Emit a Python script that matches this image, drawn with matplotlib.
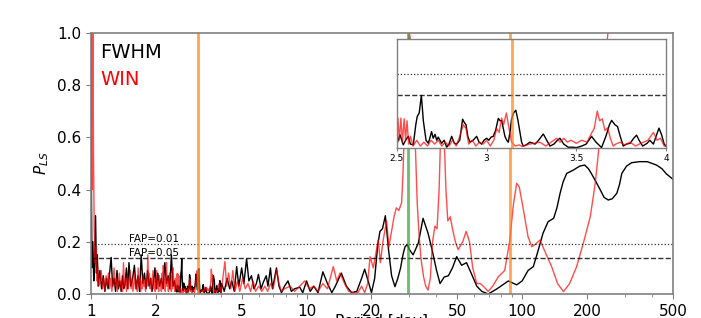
import numpy as np
import matplotlib
matplotlib.use("Agg")
import matplotlib.pyplot as plt
from matplotlib.ticker import NullFormatter

# FWHM periodogram: noisy short-period part, then smoother long-period part
fwhm_period = [1.000, 1.004, 1.01, 1.02, 1.03, 1.04, 1.05, 1.06, 1.07, 1.08, 1.10, 1.12, 1.14, 1.16,
               1.18, 1.20, 1.22, 1.24, 1.26, 1.28, 1.30, 1.32, 1.34, 1.36, 1.38, 1.40, 1.42, 1.44,
               1.46, 1.48, 1.50, 1.53, 1.56, 1.59, 1.62, 1.65, 1.68, 1.71, 1.74, 1.77, 1.80, 1.83,
               1.86, 1.89, 1.92, 1.95, 1.98, 2.01, 2.04, 2.08, 2.12, 2.16, 2.20, 2.24, 2.28, 2.32,
               2.36, 2.40, 2.44, 2.48,
               4.04, 4.15, 4.28, 4.40, 4.50, 4.62, 4.74, 4.85, 5.00, 5.12, 5.27, 5.40, 5.55, 5.70,
               5.85, 5.98, 6.15, 6.30, 6.50, 6.62, 6.80, 6.95, 7.10, 7.25, 7.45, 7.65, 7.90, 8.20,
               8.50, 8.80, 9.30, 9.60, 10.0, 10.4, 10.8, 11.3, 11.9, 12.5, 13.1, 13.6, 14.5, 15.3,
               16.2, 17.1, 18.0, 18.6, 19.3, 20.0, 20.7, 21.4, 21.9, 22.5, 23.2, 24.0, 24.8, 25.7,
               26.5, 27.3, 28.0, 28.6, 29.3, 30.0, 31.2, 33.0, 34.7, 36.6, 38.2, 40.1, 41.6, 43.5,
               45.5, 47.5, 49.7, 52.4, 55.2, 58.0, 61.6, 65.0, 69.6, 76.5, 86.3, 94.3, 100.0, 106.5,
               112.7, 118.0, 125.0, 132.0, 140.0, 145.0, 150.0, 155.0, 161.0, 173.0, 185.0, 195.0,
               203.0, 210.0, 220.0, 230.0, 240.0, 251.0, 262.0, 275.0, 283.0, 290.0, 305.0, 322.0,
               350.0, 380.0, 420.0, 445.0, 467.0, 500.0]
fwhm_power = [1.00, 0.45, 0.10, 0.20, 0.05, 0.12, 0.30, 0.08, 0.15, 0.03, 0.09, 0.02, 0.07, 0.01,
              0.06, 0.02, 0.08, 0.14, 0.03, 0.06, 0.01, 0.09, 0.02, 0.05, 0.01, 0.07, 0.02, 0.04,
              0.10, 0.02, 0.12, 0.03, 0.06, 0.11, 0.02, 0.07, 0.01, 0.15, 0.04, 0.08, 0.02, 0.09,
              0.03, 0.06, 0.01, 0.05, 0.10, 0.02, 0.08, 0.03, 0.06, 0.02, 0.12, 0.04, 0.07, 0.02,
              0.15, 0.03, 0.05, 0.01,
              0.04, 0.01, 0.06, 0.02, 0.05, 0.01, 0.105, 0.03, 0.10, 0.04, 0.135, 0.05, 0.07, 0.02,
              0.04, 0.075, 0.02, 0.045, 0.07, 0.03, 0.10, 0.02, 0.06, 0.10, 0.03, 0.005, 0.03, 0.05,
              0.01, 0.02, 0.026, 0.005, 0.05, 0.01, 0.03, 0.005, 0.085, 0.04, 0.005, 0.03, 0.08, 0.03,
              0.005, 0.01, 0.06, 0.095, 0.05, 0.005, 0.06, 0.19, 0.24, 0.25, 0.30, 0.17, 0.07, 0.028,
              0.06, 0.10, 0.15, 0.18, 0.19, 0.17, 0.15, 0.195, 0.29, 0.233, 0.17, 0.09, 0.04, 0.065,
              0.07, 0.10, 0.143, 0.11, 0.12, 0.08, 0.03, 0.01, 0.0, 0.02, 0.05, 0.035, 0.05, 0.09,
              0.105, 0.16, 0.233, 0.277, 0.29, 0.33, 0.386, 0.43, 0.462, 0.475, 0.49, 0.494,
              0.48, 0.46, 0.43, 0.40, 0.37, 0.36, 0.365, 0.386, 0.42, 0.462, 0.49, 0.503,
              0.507, 0.507, 0.494, 0.48, 0.46, 0.44]

# WIN periodogram (above 250 d it runs off the top of the axes)
win_period = [1.000, 1.006, 1.012, 1.02, 1.028, 1.035, 1.045, 1.055, 1.065, 1.075, 1.085,
              1.100, 1.115, 1.130, 1.145, 1.160, 1.175, 1.190, 1.205, 1.220, 1.235, 1.250, 1.265,
              1.280, 1.295, 1.310, 1.325, 1.340, 1.355, 1.370, 1.385, 1.400, 1.415, 1.430, 1.445,
              1.460, 1.475, 1.490, 1.505, 1.520, 1.535, 1.550, 1.565, 1.580, 1.595, 1.610, 1.625,
              1.640, 1.655, 1.670, 1.685, 1.700, 1.715, 1.730, 1.745, 1.760, 1.775, 1.790, 1.805,
              1.820, 1.835, 1.850, 1.865, 1.880, 1.895, 1.910, 1.925, 1.940, 1.955, 1.970, 1.985,
              2.000, 2.015, 2.030, 2.045, 2.060, 2.075, 2.090, 2.105, 2.120, 2.135, 2.150, 2.165,
              2.180, 2.195, 2.210, 2.225, 2.240, 2.255, 2.270, 2.285, 2.300, 2.315, 2.330, 2.345,
              2.360, 2.375, 2.390, 2.405, 2.420, 2.435, 2.450, 2.465, 2.480, 2.495,
              4.04, 4.10, 4.18, 4.26, 4.35, 4.45, 4.55, 4.65, 4.78, 4.90, 5.05, 5.20, 5.35, 5.50,
              5.65, 5.80, 6.00, 6.20, 6.40, 6.60, 6.80, 7.00, 7.26, 7.45, 7.65, 7.90, 8.40, 8.80,
              9.30, 9.80, 10.3, 10.8, 11.3, 11.9, 12.5, 13.3, 13.8, 14.3, 15.0, 15.7, 16.5, 17.3,
              18.0, 18.6, 19.2, 19.7, 20.4, 21.0, 21.5, 22.0, 22.6, 23.5, 24.1, 24.8, 25.5, 26.1,
              26.8, 27.6, 28.0, 28.6, 29.2, 30.0, 30.6, 31.3, 32.0, 32.6, 33.3, 34.0, 34.9, 35.7,
              36.6, 37.5, 38.4, 39.4, 40.3, 41.2, 42.0, 42.7, 43.5, 44.3, 45.2, 46.4, 47.5, 49.0,
              50.5, 53.0, 55.0, 57.0, 59.0, 61.6, 64.0, 66.0, 69.6, 73.0, 77.5, 83.0, 87.7, 91.0,
              94.3, 97.0, 101.0, 106.5, 110.8, 115.0, 121.0, 128.0, 137.0, 146.0, 155.6, 166.0,
              179.0, 193.0, 207.0, 218.0, 229.0, 240.0, 250.0, 270.0, 400.0, 500.0]
win_power = [0.30, 0.66, 0.40, 1.00, 0.50, 0.25, 0.12, 0.18, 0.05, 0.10, 0.03,
             0.04, 0.09, 0.02, 0.06, 0.01, 0.07, 0.03, 0.08, 0.02, 0.06, 0.01, 0.05,
             0.10, 0.03, 0.06, 0.01, 0.04, 0.08, 0.02, 0.05, 0.01, 0.12, 0.03, 0.06,
             0.01, 0.07, 0.02, 0.05, 0.09, 0.02, 0.06, 0.01, 0.04, 0.08, 0.02, 0.05,
             0.01, 0.10, 0.03, 0.06, 0.01, 0.05, 0.02, 0.07, 0.03, 0.05, 0.01, 0.06,
             0.03, 0.15, 0.04, 0.08, 0.02, 0.06, 0.01, 0.05, 0.09, 0.02, 0.06, 0.01,
             0.04, 0.09, 0.02, 0.05, 0.01, 0.07, 0.03, 0.05, 0.01, 0.08, 0.02, 0.11,
             0.03, 0.06, 0.01, 0.05, 0.12, 0.03, 0.06, 0.01, 0.04, 0.08, 0.02, 0.05,
             0.01, 0.07, 0.02, 0.10, 0.03, 0.05, 0.01, 0.06, 0.02, 0.04,
             0.02, 0.07, 0.124, 0.03, 0.08, 0.02, 0.09, 0.01, 0.05, 0.01, 0.06, 0.02, 0.04, 0.01,
             0.05, 0.01, 0.03, 0.01, 0.03, 0.01, 0.04, 0.02, 0.092, 0.04, 0.01, 0.02, 0.03, 0.01,
             0.03, 0.05, 0.02, 0.03, 0.01, 0.04, 0.02, 0.105, 0.05, 0.08, 0.04, 0.01, 0.005, 0.005,
             0.03, 0.005, 0.04, 0.143, 0.10, 0.16, 0.207, 0.12, 0.20, 0.28, 0.18, 0.24, 0.30, 0.33,
             0.32, 0.35, 0.46, 0.70, 0.92, 1.00, 0.95, 0.80, 0.55, 0.35, 0.22, 0.13, 0.066, 0.03,
             0.015, 0.06, 0.20, 0.26, 0.25, 0.40, 0.65, 0.78, 0.60, 0.40, 0.28, 0.296, 0.25, 0.20,
             0.17, 0.20, 0.24, 0.20, 0.10, 0.04, 0.04, 0.03, 0.01, 0.03, 0.066, 0.09, 0.207, 0.34,
             0.424, 0.41, 0.33, 0.22, 0.181, 0.19, 0.207, 0.16, 0.105, 0.04, 0.009, 0.04,
             0.105, 0.20, 0.296, 0.42, 0.59, 0.85, 1.00, 1.15, 1.30, 1.30]

# detailed samples between 2.5 and 4 days (shown in the inset)
inset_fwhm_period = [2.498, 2.517, 2.535, 2.548, 2.563, 2.575, 2.591, 2.605, 2.613, 2.624, 2.636, 2.647,
                     2.662, 2.675, 2.693, 2.702, 2.712, 2.722, 2.730, 2.749, 2.763, 2.777, 2.79, 2.805,
                     2.82, 2.833, 2.85, 2.866, 2.876, 2.885, 2.895, 2.907, 2.925, 2.944, 2.958, 2.972,
                     2.985, 3.000, 3.012, 3.025, 3.037, 3.05, 3.065, 3.075, 3.084, 3.093, 3.102, 3.112,
                     3.121, 3.13, 3.139, 3.15, 3.163, 3.175, 3.186, 3.195, 3.204, 3.22, 3.242, 3.27,
                     3.29, 3.316, 3.335, 3.353, 3.375, 3.395, 3.409, 3.43, 3.455, 3.48, 3.502, 3.53,
                     3.555, 3.585, 3.61, 3.641, 3.665, 3.685, 3.697, 3.715, 3.73, 3.745, 3.762, 3.78,
                     3.80, 3.82, 3.836, 3.85, 3.87, 3.895, 3.91, 3.93, 3.945, 3.961, 3.975, 3.99, 4.00]
inset_fwhm_power = [0.008, 0.034, 0.008, 0.02, 0.03, 0.01, 0.008, 0.06, 0.081, 0.09, 0.135, 0.07,
                    0.02, 0.012, 0.042, 0.025, 0.035, 0.02, 0.028, 0.012, 0.02, 0.002, 0.01, 0.03,
                    0.012, 0.01, 0.02, 0.074, 0.065, 0.06, 0.03, 0.015, 0.02, 0.03, 0.015, 0.01,
                    0.02, 0.025, 0.02, 0.028, 0.03, 0.045, 0.076, 0.07, 0.07, 0.05, 0.03, 0.02,
                    0.015, 0.04, 0.074, 0.09, 0.097, 0.07, 0.04, 0.015, 0.005, 0.008, 0.015, 0.01,
                    0.02, 0.036, 0.02, 0.005, 0.01, 0.02, 0.025, 0.01, 0.002, 0.002, 0.001, 0.005,
                    0.01, 0.03, 0.015, 0.001, 0.03, 0.06, 0.071, 0.06, 0.055, 0.03, 0.005, 0.01,
                    0.012, 0.025, 0.033, 0.02, 0.005, 0.012, 0.02, 0.01, 0.03, 0.051, 0.035, 0.01, 0.005]
inset_win_period = [2.50, 2.505, 2.513, 2.522, 2.53, 2.54, 2.548, 2.556, 2.565, 2.575, 2.59, 2.61,
                    2.63, 2.65, 2.67, 2.69, 2.71, 2.73, 2.75, 2.77, 2.79, 2.81, 2.83, 2.85, 2.87,
                    2.885, 2.90, 2.92, 2.94, 2.96, 2.98, 3.00, 3.02, 3.04, 3.056, 3.07, 3.083, 3.095,
                    3.11, 3.125, 3.139, 3.16, 3.18, 3.20, 3.24, 3.297, 3.33, 3.36, 3.39, 3.41, 3.43,
                    3.45, 3.47, 3.50, 3.53, 3.56, 3.585, 3.60, 3.617, 3.63, 3.645, 3.66, 3.675, 3.69,
                    3.706, 3.72, 3.745, 3.77, 3.80, 3.83, 3.86, 3.90, 3.93, 3.95, 3.97, 3.99, 4.00]
inset_win_power = [0.03, 0.077, 0.02, 0.077, 0.015, 0.075, 0.02, 0.07, 0.01, 0.03, 0.005, 0.02,
                   0.005, 0.015, 0.005, 0.02, 0.01, 0.02, 0.005, 0.015, 0.005, 0.02, 0.005, 0.03, 0.06,
                   0.05, 0.01, 0.02, 0.005, 0.015, 0.01, 0.02, 0.005, 0.02, 0.05, 0.04, 0.077, 0.06,
                   0.09, 0.05, 0.015, 0.005, 0.008, 0.004, 0.01, 0.015, 0.005, 0.015, 0.025, 0.015, 0.025,
                   0.015, 0.02, 0.012, 0.02, 0.015, 0.038, 0.05, 0.095, 0.07, 0.075, 0.045, 0.052, 0.025,
                   0.005, 0.01, 0.015, 0.008, 0.015, 0.005, 0.012, 0.02, 0.04, 0.02, 0.025, 0.005, 0.004]

fap_levels = [0.19, 0.137]
fap_labels = ["FAP=0.01", "FAP=0.05"]
orange_periods = [3.14, 88.0]
green_periods = [29.4]


def merge(p_main, y_main, p_zoom, y_zoom):
    p = np.concatenate([p_main, p_zoom])
    y = np.concatenate([y_main, y_zoom])
    order = np.argsort(p)
    return p[order], y[order]


fw_p, fw_y = merge(fwhm_period, fwhm_power, inset_fwhm_period, inset_fwhm_power)
wn_p, wn_y = merge(win_period, win_power, inset_win_period, inset_win_power)

fig = plt.figure(figsize=(7.01, 3.18), dpi=100)
ax = fig.add_axes([0.1298, 0.0755, 0.830, 0.8208])

ax.plot(fw_p, fw_y, color="black", lw=1.0)
ax.plot(wn_p, wn_y, color="red", lw=1.0, alpha=0.7)

ax.axhline(fap_levels[0], color="k", ls=":", lw=0.9, alpha=0.8)
ax.axhline(fap_levels[1], color="k", ls="--", lw=1.0, alpha=0.8)
ax.text(1.5, fap_levels[0], fap_labels[0], fontsize=7.5, va="bottom", ha="left")
ax.text(1.5, fap_levels[1], fap_labels[1], fontsize=7.5, va="bottom", ha="left")

for p in orange_periods:
    ax.axvline(p, color="tab:orange", lw=2, alpha=0.7)
for p in green_periods:
    ax.axvline(p, color="tab:green", lw=2, alpha=0.7)

ax.set_xscale("log")
ax.set_xlim(1, 500)
ax.set_ylim(0, 1)
xt = [1, 2, 5, 10, 20, 50, 100, 200, 500]
ax.set_xticks(xt)
ax.set_xticklabels([str(v) for v in xt])
ax.xaxis.set_minor_formatter(NullFormatter())
ax.set_yticks([0, 0.2, 0.4, 0.6, 0.8, 1.0])
ax.set_yticklabels(["0.0", "0.2", "0.4", "0.6", "0.8", "1.0"])
ax.tick_params(labelsize=11, color="grey")
ax.tick_params(which="minor", color="grey")
for s in ax.spines.values():
    s.set_color("grey")
    s.set_linewidth(1.2)
ax.set_ylabel("$P_{LS}$", fontsize=11)
ax.set_xlabel("Period [day]", fontsize=11)
ax.xaxis.set_label_coords(0.5, -0.076)

ax.text(0.016, 0.96, "FWHM", transform=ax.transAxes, fontsize=14, va="top", ha="left", color="black")
ax.text(0.016, 0.86, "WIN", transform=ax.transAxes, fontsize=14, va="top", ha="left", color="red")

# inset zoom on 2.5 - 4 days
axin = fig.add_axes([0.5663, 0.5346, 0.3837, 0.3428])
axin.plot(inset_fwhm_period, inset_fwhm_power, color="black", lw=1.0)
axin.plot(inset_win_period, inset_win_power, color="red", lw=1.0, alpha=0.7)
axin.axhline(fap_levels[0], color="k", ls=":", lw=0.9, alpha=0.8)
axin.axhline(fap_levels[1], color="k", ls="--", lw=1.0, alpha=0.8)
axin.axvline(orange_periods[0], color="tab:orange", lw=2, alpha=0.7)
axin.set_xlim(2.5, 4)
axin.set_ylim(0, 0.28)
axin.set_xticks([2.5, 3, 3.5, 4])
axin.set_xticklabels(["2.5", "3", "3.5", "4"])
axin.set_yticks([])
axin.tick_params(labelsize=6.5, color="grey", length=2.5, pad=1.5)
for s in axin.spines.values():
    s.set_color("grey")
    s.set_linewidth(1.0)

fig.savefig("out.png", dpi=100)
plt.close(fig)
